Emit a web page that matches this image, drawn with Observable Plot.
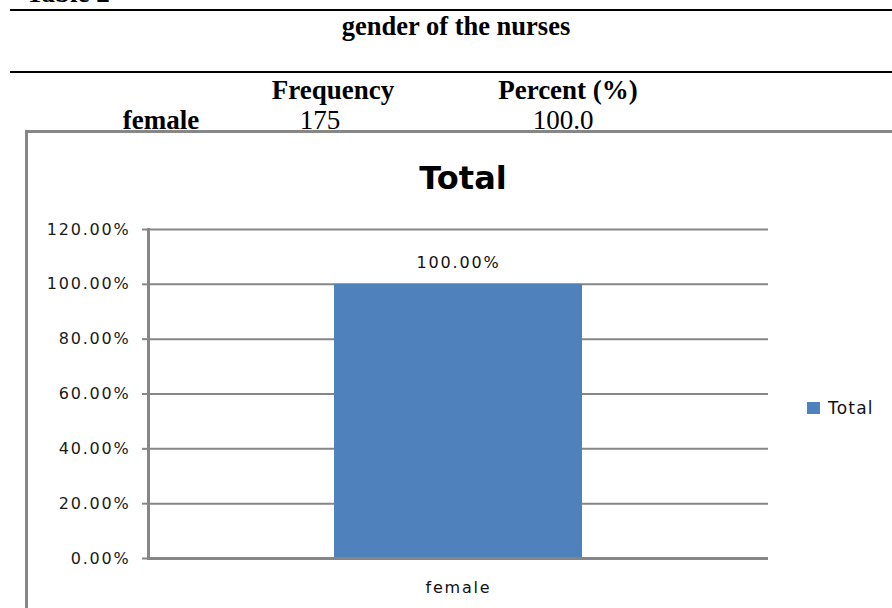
<!DOCTYPE html>
<html><head><meta charset="utf-8">
<script src="https://cdn.jsdelivr.net/npm/d3@7"></script>
<script src="https://cdn.jsdelivr.net/npm/@observablehq/plot@0.6"></script>
<style>
html,body{margin:0;padding:0;background:#fff;}
#page{position:relative;width:892px;height:608px;overflow:hidden;background:#fff;}
.serif{position:absolute;font-family:"Liberation Serif","Times New Roman",serif;font-size:27px;color:#000;white-space:nowrap;line-height:1;}
.b{font-weight:bold;}
.c{transform:translateX(-50%);}
.rule{position:absolute;left:10px;right:0;height:2px;background:#000;}
#box{position:absolute;left:25px;top:130px;width:900px;height:520px;border:3px solid #868686;box-sizing:border-box;}
#ctitle{position:absolute;left:463px;top:162px;transform:translateX(-50%);font-family:"DejaVu Sans",sans-serif;font-weight:bold;font-size:32px;color:#000;white-space:nowrap;line-height:1;}
#chart{position:absolute;left:0;top:200px;}
#chart svg text{letter-spacing:1.8px;}
#legend{position:absolute;left:807px;top:398px;font-family:"DejaVu Sans",sans-serif;font-size:17px;letter-spacing:1.2px;color:#111;white-space:nowrap;display:flex;align-items:center;}
#legend span.sw{display:inline-block;width:13px;height:12px;background:#4f81bd;margin-right:8px;}
</style></head>
<body><div id="page">
<div class="serif b" style="left:26px;top:-20px;">Table 2</div>
<div class="rule" style="top:9px;"></div>
<div class="serif b c" style="left:456px;top:13px;font-size:26.5px;">gender of the nurses</div>
<div class="rule" style="top:71px;"></div>
<div class="serif b c" style="left:333px;top:77px;">Frequency</div>
<div class="serif b c" style="left:568px;top:77px;">Percent (%)</div>
<div class="serif b c" style="left:161px;top:107px;">female</div>
<div class="serif c" style="left:320px;top:107px;">175</div>
<div class="serif c" style="left:563px;top:107px;">100.0</div>
<div id="box"></div>
<div id="ctitle">Total</div>
<div id="chart"></div>
<div id="legend"><span class="sw"></span>Total</div>
</div>
<script>
const categories = ["female"];
const values = [1.0];
const yTicks = [0, 0.2, 0.4, 0.6, 0.8, 1.0, 1.2];
const seriesName = "Total";

const data = categories.map((c, i) => ({category: c, value: values[i], series: seriesName}));
const pct = v => (v * 100).toFixed(2) + "%";
const grid = "#868686";

const chart = Plot.plot({
  width: 892,
  height: 408,
  marginLeft: 148,
  marginRight: 124,
  marginTop: 29,
  marginBottom: 50,
  style: {fontFamily: "DejaVu Sans, sans-serif", fontSize: "16px", color: "#222", background: "transparent", overflow: "visible"},
  x: {domain: categories, paddingInner: 0, paddingOuter: 0.75, label: null},
  y: {domain: [0, 1.2], ticks: yTicks, label: null},
  marks: [
    Plot.ruleY(yTicks, {stroke: grid, strokeWidth: 2}),
    Plot.barY(data, {x: "category", y: "value", fill: "#4f81bd"}),
    Plot.ruleY([0], {stroke: grid, strokeWidth: 3}),
    Plot.frame({anchor: "left", stroke: grid, strokeWidth: 3}),
    Plot.axisY({ticks: yTicks, tickFormat: pct, tickSize: 6, tickPadding: 12, stroke: grid, strokeWidth: 2, strokeOpacity: 1, fill: "#1a1a1a", fontSize: 16}),
    Plot.axisX({tickSize: 0, tickPadding: 23, fill: "#111", fontSize: 16}),
    Plot.text(data, {x: "category", y: "value", text: d => pct(d.value), dy: -21, fill: "#111", fontSize: 16})
  ]
});
document.getElementById("chart").appendChild(chart);
</script>
</body></html>
